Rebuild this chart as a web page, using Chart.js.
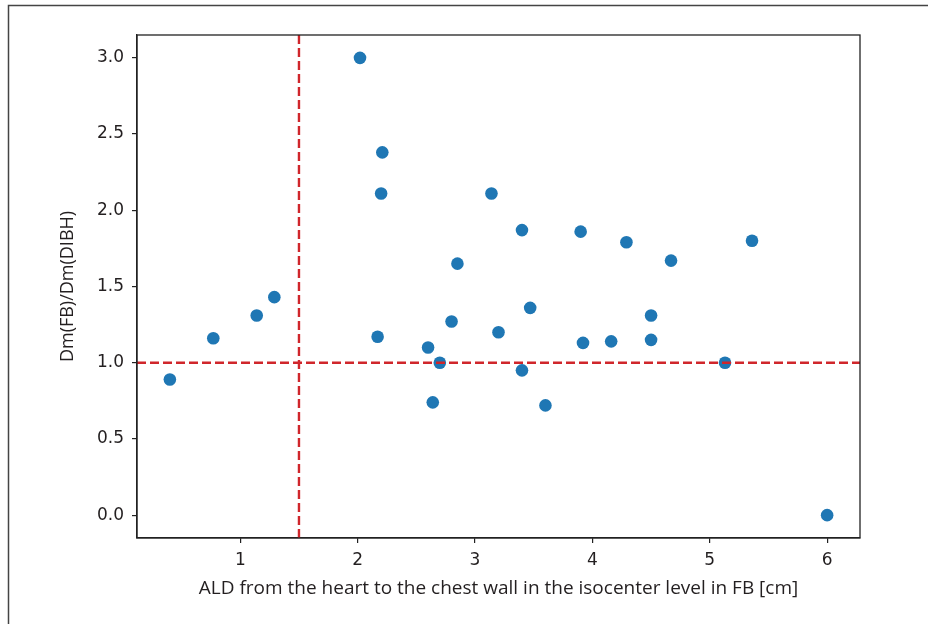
<!DOCTYPE html>
<html>
<head>
<meta charset="utf-8">
<script src="https://cdn.jsdelivr.net/npm/chart.js@4"></script>
<style>
html,body{margin:0;padding:0;background:#fff}
canvas{display:block}
</style>
</head>
<body>
<canvas id="c" width="928" height="624"></canvas>
<script>
// ALD [cm] vs Dm(FB)/Dm(DIBH)
const ALD=[0.40,0.77,1.14,1.29,2.02,2.21,2.20,2.17,2.60,2.70,2.64,2.80,2.85,3.14,3.20,3.40,3.47,3.40,3.60,3.90,3.92,4.16,4.29,4.50,4.50,4.67,5.13,5.36,6.00];
const RATIO=[0.89,1.16,1.31,1.43,3.00,2.38,2.11,1.17,1.10,1.00,0.74,1.27,1.65,2.11,1.20,1.87,1.36,0.95,0.72,1.86,1.13,1.14,1.79,1.31,1.15,1.67,1.00,1.80,0.00];
const X_TICKS=[1,2,3,4,5,6];
const Y_TICKS=[0,0.5,1,1.5,2,2.5,3];
const X_LIM=[0.12,6.28];
const Y_LIM=[-0.15,3.15];
const CUT_X=1.5, CUT_Y=1.0;

const TXT='#231f20';
const tickFont={family:'DejaVu Sans',size:17};

const frame={
  id:'frame',
  beforeDraw(chart){
    const c=chart.ctx;
    c.save();
    c.strokeStyle='#444';c.lineWidth=1.5;
    c.beginPath();c.moveTo(8.5,624);c.lineTo(8.5,5.5);c.lineTo(928,5.5);c.stroke();
    c.restore();
  },
  afterDraw(chart){
    const a=chart.chartArea,c=chart.ctx;
    c.save();
    c.strokeStyle='#222';c.lineWidth=1.3;
    c.strokeRect(a.left,a.top,a.right-a.left,a.bottom-a.top);
    c.restore();
  }
};

new Chart(document.getElementById('c'),{
  type:'scatter',
  data:{datasets:[
    {data:[{x:CUT_X,y:Y_LIM[0]},{x:CUT_X,y:Y_LIM[1]}],showLine:true,borderColor:'#d0262b',borderWidth:2.4,borderDash:[9,4],pointRadius:0,order:0},
    {data:[{x:X_LIM[0],y:CUT_Y},{x:X_LIM[1],y:CUT_Y}],showLine:true,borderColor:'#d0262b',borderWidth:2.4,borderDash:[9,4],pointRadius:0,order:0},
    {data:ALD.map((x,i)=>({x,y:RATIO[i]})),backgroundColor:'#1f77b4',borderWidth:0,pointRadius:6.3,pointHoverRadius:6.3,order:1}
  ]},
  options:{
    responsive:false,animation:false,devicePixelRatio:1,
    layout:{padding:{left:0,top:35,right:68,bottom:0}},
    plugins:{legend:{display:false},tooltip:{enabled:false}},
    scales:{
      x:{type:'linear',min:X_LIM[0],max:X_LIM[1],
        afterBuildTicks(s){s.ticks=X_TICKS.map(v=>({value:v}))},
        afterFit(s){s.height=86},
        grid:{drawOnChartArea:false,drawTicks:true,tickLength:5,color:'#222',lineWidth:1.2},
        border:{display:true,color:'#222',width:1.3},
        ticks:{font:tickFont,color:TXT,padding:7,maxRotation:0,callback:v=>String(v)},
        title:{display:true,text:'ALD from the heart to the chest wall in the isocenter level in FB [cm]',font:{family:'Open Sans',size:19},color:TXT,padding:{top:0,bottom:24}}
      },
      y:{type:'linear',min:Y_LIM[0],max:Y_LIM[1],
        afterBuildTicks(s){s.ticks=Y_TICKS.map(v=>({value:v}))},
        afterFit(s){s.width=137},
        grid:{drawOnChartArea:false,drawTicks:true,tickLength:5,color:'#222',lineWidth:1.2},
        border:{display:true,color:'#222',width:1.3},
        ticks:{font:tickFont,color:TXT,padding:8,callback:v=>v.toFixed(1)},
        title:{display:true,text:'Dm(FB)/Dm(DIBH)',font:{family:'Open Sans',size:18},color:TXT,padding:{top:57,bottom:0}}
      }
    }
  },
  plugins:[frame]
});
</script>
</body>
</html>
